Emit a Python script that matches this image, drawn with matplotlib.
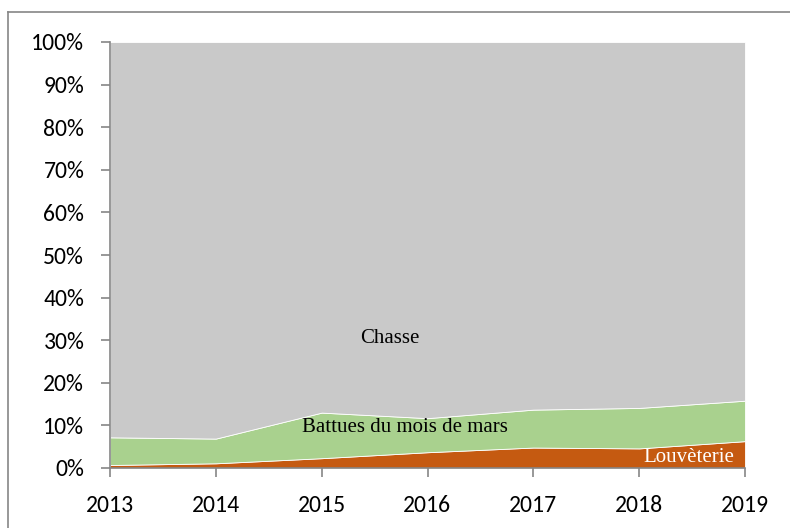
import matplotlib
matplotlib.use("Agg")
import matplotlib.pyplot as plt
from matplotlib.ticker import PercentFormatter

years = [2013, 2014, 2015, 2016, 2017, 2018, 2019]
louveterie = [0.7, 1.1, 2.3, 3.7, 4.8, 4.6, 6.3]
battues = [6.5, 5.8, 10.7, 8.0, 8.9, 9.5, 9.5]
chasse = [100 - l - b for l, b in zip(louveterie, battues)]

colors = ['#C55A11', '#A9D18E', '#C9C9C9']
axis_grey = '#868686'

fig = plt.figure(figsize=(7.9, 5.28), dpi=100)
ax = fig.add_axes([110 / 790, 60 / 528, 635 / 790, 426 / 528])

ax.stackplot(years, louveterie, battues, chasse, colors=colors,
             edgecolor='white', linewidth=0.6)

ax.set_xlim(2013, 2019)
ax.set_ylim(0, 100)
ax.set_xticks(years)
ax.set_yticks(range(0, 101, 10))
ax.yaxis.set_major_formatter(PercentFormatter(decimals=0))

tick_font = ['Carlito', 'Lato', 'DejaVu Sans']
for lab in ax.get_xticklabels() + ax.get_yticklabels():
    lab.set_family(tick_font)
    lab.set_fontsize(17)
ax.tick_params(axis='both', direction='out', length=6.5, width=1.2,
               color=axis_grey)
ax.tick_params(axis='y', pad=12)
ax.tick_params(axis='x', pad=13)

for side in ['top', 'right']:
    ax.spines[side].set_visible(False)
for side in ['left', 'bottom']:
    ax.spines[side].set_color(axis_grey)
    ax.spines[side].set_linewidth(1.2)

serif = 'Liberation Serif'
ax.text(2015.64, 30.5, 'Chasse', ha='center', va='center',
        family=serif, fontsize=15, color='black')
ax.text(2015.79, 9.6, 'Battues du mois de mars', ha='center', va='center',
        family=serif, fontsize=15, color='black')
ax.text(2018.47, 2.5, 'Louvèterie', ha='center', va='center',
        family=serif, fontsize=15, color='white')

# frame around the chart area, open to the right and bottom
fig.add_artist(plt.Line2D([8 / 790, 1], [1 - 12 / 528, 1 - 12 / 528],
                          transform=fig.transFigure, color=axis_grey, lw=1.2))
fig.add_artist(plt.Line2D([8 / 790, 8 / 790], [0, 1 - 12 / 528],
                          transform=fig.transFigure, color=axis_grey, lw=1.2))

fig.savefig('out.png', dpi=100)
